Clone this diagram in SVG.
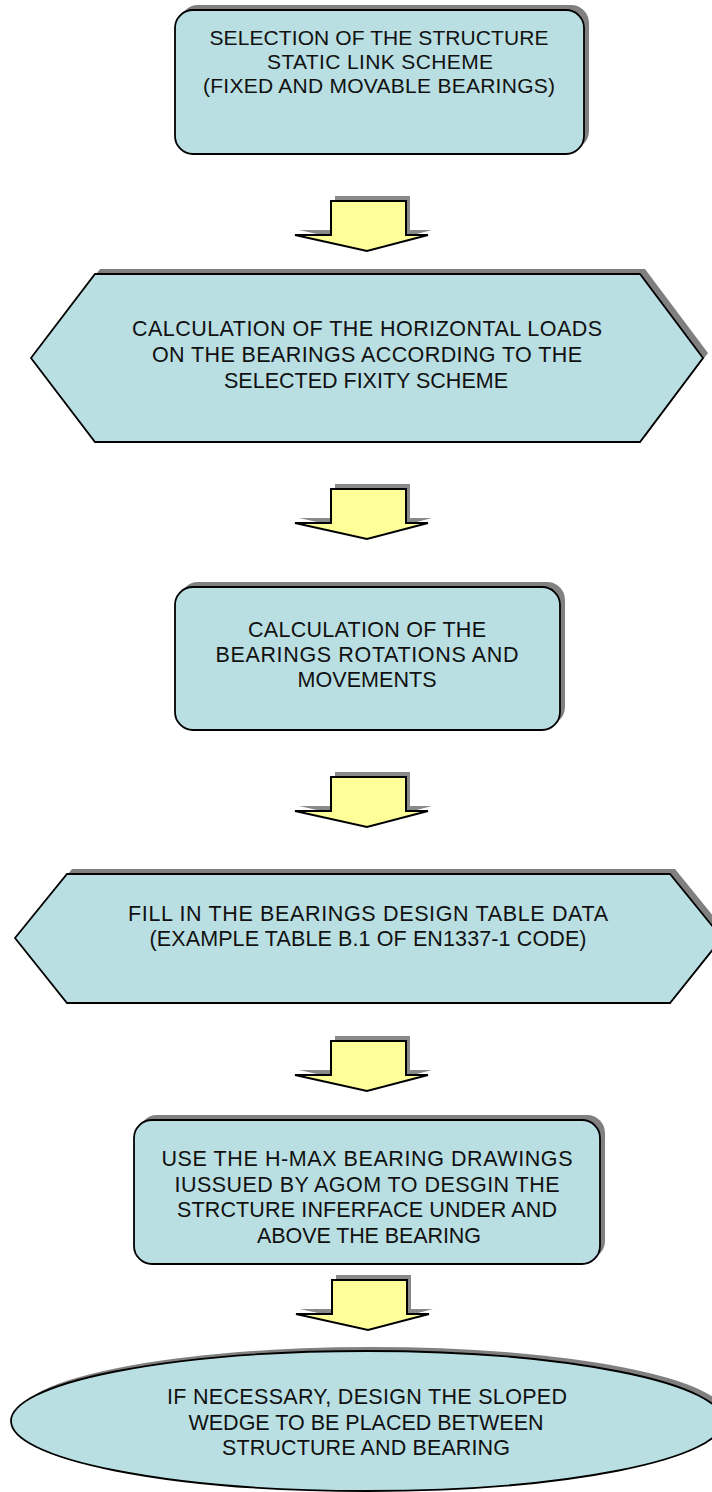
<svg xmlns="http://www.w3.org/2000/svg" xmlns:xlink="http://www.w3.org/1999/xlink" width="712" height="1492" viewBox="0 0 712 1492">
<style>
.sh{fill:#808080;stroke:none}
.nd{fill:#B9DFE3;stroke:#000;stroke-width:1.8}
.ar{fill:#FFFF99;stroke:#000;stroke-width:2;stroke-linejoin:miter}
.ash{fill:#8a8a8a;stroke:none}
text{font-family:"Liberation Sans",Arial,sans-serif;font-size:21.5px;fill:#111;text-anchor:middle}
.t1{font-size:21px}
</style>
<defs>
<path id="arw" d="M0,0 H75 V34 H97 L36,50 L-36,34 H0 Z"/>
</defs>
<rect width="712" height="1492" fill="#fff"/>

<g id="connectors">
<g transform="translate(331,201)"><use xlink:href="#arw" class="ash" transform="translate(4,-5)"/><use xlink:href="#arw" class="ar"/></g>
<g transform="translate(331,489)"><use xlink:href="#arw" class="ash" transform="translate(4,-5)"/><use xlink:href="#arw" class="ar"/></g>
<g transform="translate(331,777)"><use xlink:href="#arw" class="ash" transform="translate(4,-5)"/><use xlink:href="#arw" class="ar"/></g>
<g transform="translate(331,1041)"><use xlink:href="#arw" class="ash" transform="translate(4,-5)"/><use xlink:href="#arw" class="ar"/></g>
<g transform="translate(332,1280)"><use xlink:href="#arw" class="ash" transform="translate(4,-5)"/><use xlink:href="#arw" class="ar"/></g>
</g>

<g id="node1">
<rect class="sh" x="180" y="5" width="409" height="144" rx="18"/>
<rect class="nd" x="175" y="10" width="409" height="144" rx="18"/>
<text class="t1" x="379" y="45" textLength="339" lengthAdjust="spacing">SELECTION OF THE STRUCTURE</text>
<text class="t1" x="380" y="69" textLength="226" lengthAdjust="spacing">STATIC LINK SCHEME</text>
<text class="t1" x="379" y="93" textLength="352" lengthAdjust="spacing">(FIXED AND MOVABLE BEARINGS)</text>
</g>

<g id="node2">
<polygon class="sh" points="36,353 100,269 645,269 708,353 645,437 100,437"/>
<polygon class="nd" points="31,358 95,274 640,274 703,358 640,442 95,442"/>
<text x="367" y="336" textLength="470" lengthAdjust="spacing">CALCULATION OF THE HORIZONTAL LOADS</text>
<text x="367" y="362" textLength="430" lengthAdjust="spacing">ON THE BEARINGS ACCORDING TO THE</text>
<text x="366" y="388" textLength="284" lengthAdjust="spacing">SELECTED FIXITY SCHEME</text>
</g>

<g id="node3">
<rect class="sh" x="180" y="582" width="385" height="143" rx="18"/>
<rect class="nd" x="175" y="587" width="385" height="143" rx="18"/>
<text x="367" y="637" textLength="238" lengthAdjust="spacing">CALCULATION OF THE</text>
<text x="367" y="662" textLength="303" lengthAdjust="spacing">BEARINGS ROTATIONS AND</text>
<text x="367" y="687" textLength="139" lengthAdjust="spacing">MOVEMENTS</text>
</g>

<g id="node4">
<polygon class="sh" points="20,933 72,869 675,869 727,933 675,998 72,998"/>
<polygon class="nd" points="15,938 67,874 670,874 722,938 670,1003 67,1003"/>
<text x="368" y="921" textLength="480" lengthAdjust="spacing">FILL IN THE BEARINGS DESIGN TABLE DATA</text>
<text x="368" y="946" textLength="437" lengthAdjust="spacing">(EXAMPLE TABLE B.1 OF EN1337-1 CODE)</text>
</g>

<g id="node5">
<rect class="sh" x="139" y="1115" width="466" height="144" rx="18"/>
<rect class="nd" x="134" y="1120" width="466" height="144" rx="18"/>
<text x="367" y="1166" textLength="411" lengthAdjust="spacing">USE THE H-MAX BEARING DRAWINGS</text>
<text x="367" y="1192" textLength="385" lengthAdjust="spacing">IUSSUED BY AGOM TO DESGIN THE</text>
<text x="367" y="1217" textLength="380" lengthAdjust="spacing">STRCTURE INFERFACE UNDER AND</text>
<text x="369" y="1243" textLength="224" lengthAdjust="spacing">ABOVE THE BEARING</text>
</g>

<g id="node6">
<ellipse class="sh" cx="372" cy="1417" rx="356" ry="70"/>
<ellipse class="nd" cx="367" cy="1421" rx="356" ry="70"/>
<text x="367" y="1404" textLength="400" lengthAdjust="spacing">IF NECESSARY, DESIGN THE SLOPED</text>
<text x="366" y="1430" textLength="355" lengthAdjust="spacing">WEDGE TO BE PLACED BETWEEN</text>
<text x="366" y="1455" textLength="288" lengthAdjust="spacing">STRUCTURE AND BEARING</text>
</g>
</svg>
